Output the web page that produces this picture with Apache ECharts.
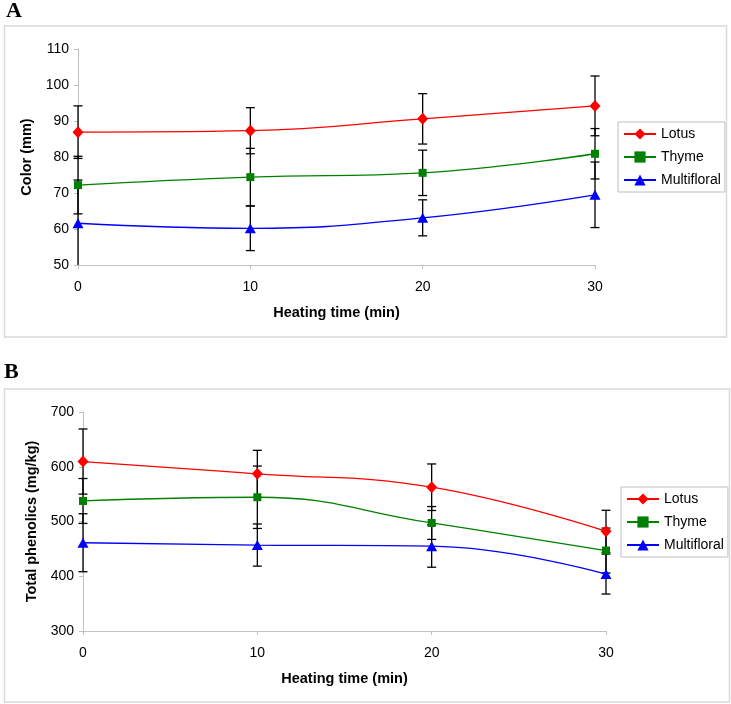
<!DOCTYPE html>
<html><head><meta charset="utf-8">
<script src="https://cdn.jsdelivr.net/npm/echarts@6/dist/echarts.min.js"></script>
<style>html,body{margin:0;padding:0;background:#fff}#c{width:731px;height:704px}</style>
</head><body><div id="c"></div>
<script>
// ---- data ----
const heatingTime = [0, 10, 20, 30];
const seriesNames = ['Lotus', 'Thyme', 'Multifloral'];
const xTicks = [0, 10, 20, 30];
const yTicksA = [50, 60, 70, 80, 90, 100, 110];
const yTicksB = [300, 400, 500, 600, 700];

// Panel A: Color (mm)
const colorLotus = [86.9, 87.3, 90.6, 94.2];
const colorLotusErr = [7.3, 6.4, 7.0, 8.3];
const colorThyme = [72.2, 74.4, 75.6, 80.9];
const colorThymeErr = [8.0, 8.0, 6.3, 7.0];
const colorMulti = [61.6, 60.2, 63.1, 69.5];
const colorMultiErr = [12.0, 6.2, 5.0, 9.1];

// Panel B: Total phenolics (mg/kg)
const phenLotus = [609.5, 587, 562.6, 482];
const phenLotusErr = [59.5, 43, 42.5, 38.5];
const phenThyme = [537.5, 544.3, 497.3, 447];
const phenThymeErr = [41, 57, 30, 41];
const phenMulti = [461.2, 457, 455, 404];
const phenMultiErr = [53, 38.5, 38.5, 36.5];

// ---- styles ----
const colors = ['#ff0000', '#008000', '#0000ff'];
const symbols = ['diamond', 'rect', 'triangle'];
const symbolSizes = [[11, 12], 8, [11, 10]];
const FONT = '"Liberation Sans", Arial, sans-serif';

const chart = echarts.init(document.getElementById('c'), null, {renderer: 'canvas'});

function pairs(vals) { return heatingTime.map((t, i) => [t, vals[i]]); }
function triples(vals, errs) { return heatingTime.map((t, i) => [t, vals[i], errs[i]]); }

function errRender(yMin, yMax) {
  return function (params, api) {
    const x = api.value(0), v = api.value(1), e = api.value(2);
    const lo = Math.max(v - e, yMin), hi = Math.min(v + e, yMax);
    const pLo = api.coord([x, lo]), pHi = api.coord([x, hi]);
    const hw = 4.5;
    const style = {stroke: '#000', lineWidth: 1.3};
    const ch = [{type: 'line', shape: {x1: pLo[0], y1: pLo[1], x2: pHi[0], y2: pHi[1]}, style}];
    if (v + e <= yMax) ch.push({type: 'line', shape: {x1: pHi[0] - hw, y1: pHi[1], x2: pHi[0] + hw, y2: pHi[1]}, style});
    if (v - e >= yMin) ch.push({type: 'line', shape: {x1: pLo[0] - hw, y1: pLo[1], x2: pLo[0] + hw, y2: pLo[1]}, style});
    return {type: 'group', children: ch};
  };
}

function xAxis(gi) {
  return {
    type: 'value', gridIndex: gi, min: xTicks[0], max: xTicks[xTicks.length - 1], interval: xTicks[1] - xTicks[0],
    name: 'Heating time (min)', nameLocation: 'middle', nameGap: 40,
    nameTextStyle: {fontFamily: FONT, fontSize: 14.5, fontWeight: 'bold', color: '#000'},
    axisLine: {show: true, lineStyle: {color: '#c0c0c0', width: 1}},
    axisTick: {show: true, length: 4, lineStyle: {color: '#c0c0c0'}},
    axisLabel: {fontFamily: FONT, fontSize: 14, color: '#000', margin: 15},
    splitLine: {show: false}
  };
}
function yAxis(gi, ticks, name) {
  return {
    type: 'value', gridIndex: gi, min: ticks[0], max: ticks[ticks.length - 1], interval: ticks[1] - ticks[0],
    name: name, nameLocation: 'middle', nameGap: 44,
    nameTextStyle: {fontFamily: FONT, fontSize: 14.5, fontWeight: 'bold', color: '#000'},
    axisLine: {show: true, lineStyle: {color: '#c0c0c0', width: 1}},
    axisTick: {show: true, length: 4, lineStyle: {color: '#c0c0c0'}},
    axisLabel: {fontFamily: FONT, fontSize: 14, color: '#000', margin: 9},
    splitLine: {show: false}
  };
}

const panelA = [[colorLotus, colorLotusErr], [colorThyme, colorThymeErr], [colorMulti, colorMultiErr]];
const panelB = [[phenLotus, phenLotusErr], [phenThyme, phenThymeErr], [phenMulti, phenMultiErr]];

const series = [];
[[panelA, 0, yTicksA], [panelB, 1, yTicksB]].forEach(([panel, gi, ticks]) => {
  panel.forEach(([vals, errs], k) => {
    series.push({
      type: 'custom', name: seriesNames[k] + ' error', xAxisIndex: gi, yAxisIndex: gi, z: 1,
      renderItem: errRender(ticks[0], ticks[ticks.length - 1]),
      encode: {x: 0, y: 1}, data: triples(vals, errs), silent: true
    });
  });
  panel.forEach(([vals], k) => {
    series.push({
      type: 'line', name: seriesNames[k], xAxisIndex: gi, yAxisIndex: gi, z: 3,
      data: pairs(vals), smooth: 0.45,
      symbol: symbols[k], symbolSize: symbolSizes[k], showSymbol: true,
      lineStyle: {color: colors[k], width: 1.3},
      itemStyle: {color: colors[k]}
    });
  });
});

function legend(left, top) {
  return {
    orient: 'vertical', left: left, top: top, data: seriesNames,
    itemWidth: 32, itemHeight: 14, itemGap: 9,
    padding: [5, 4, 5, 5],
    borderColor: '#bfbfbf', borderWidth: 1,
    textStyle: {fontFamily: FONT, fontSize: 14, color: '#000'},
    selectedMode: false
  };
}

chart.setOption({
  animation: false,
  backgroundColor: '#fff',
  grid: [
    {left: 78, top: 49, width: 517, height: 216},
    {left: 83, top: 412, width: 523, height: 219}
  ],
  xAxis: [xAxis(0), xAxis(1)],
  yAxis: [yAxis(0, yTicksA, 'Color (mm)'), yAxis(1, yTicksB, 'Total phenolics (mg/kg)')],
  legend: [legend(618, 122), legend(621, 487)],
  graphic: [
    {type: 'rect', silent: true, shape: {x: 4.5, y: 26, width: 722, height: 311}, style: {fill: 'none', stroke: '#d9d9d9', lineWidth: 1.5}},
    {type: 'rect', silent: true, shape: {x: 4.5, y: 389, width: 725, height: 313}, style: {fill: 'none', stroke: '#d9d9d9', lineWidth: 1.5}},
    {type: 'text', left: 6, top: 0, style: {text: 'A', font: 'bold 22px "Liberation Serif", "Times New Roman", serif', fill: '#000'}},
    {type: 'text', left: 4, top: 361, style: {text: 'B', font: 'bold 22px "Liberation Serif", "Times New Roman", serif', fill: '#000'}}
  ],
  series: series
});
</script>
</body></html>
